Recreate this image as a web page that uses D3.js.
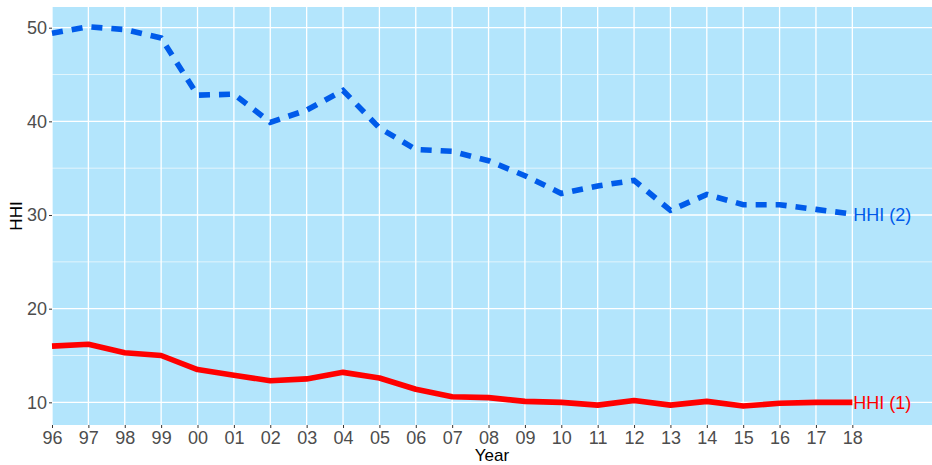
<!DOCTYPE html>
<html>
<head>
<meta charset="utf-8">
<script src="https://cdn.jsdelivr.net/npm/d3@7"></script>
<style>
  body { margin: 0; background: #fff; }
  text { font-family: "Liberation Sans", Arial, sans-serif; }
</style>
</head>
<body>
<svg id="chart" width="932" height="465"></svg>
<script>
// year labels on the x axis
var years = ["96","97","98","99","00","01","02","03","04","05","06","07",
             "08","09","10","11","12","13","14","15","16","17","18"];
// HHI (1), solid red
var hhi1 = [16.0,16.2,15.3,15.0,13.5,12.9,12.3,12.5,13.2,12.6,11.4,10.6,
            10.5,10.1,10.0,9.7,10.2,9.7,10.1,9.6,9.9,10.0,10.0];
// HHI (2), dashed blue
var hhi2 = [49.4,50.1,49.8,48.9,42.8,42.9,39.9,41.2,43.3,39.3,37.0,36.8,
            35.8,34.2,32.3,33.1,33.7,30.5,32.2,31.1,31.1,30.6,30.1];
var yMajor = [10,20,30,40,50];
var yMinor = [15,25,35,45];

var svg = d3.select("#chart"),
  width = +svg.attr("width"),
  height = +svg.attr("height");

// panel edges (window.top is taken, so p-prefixed names)
var pLeft = 52, pRight = 932, pTop = 7, pBottom = 425;

var x = d3.scaleLinear()
  .domain([0, 24.19])
  .range([pLeft, pRight]);
var y = d3.scaleLinear()
  .domain([7.58, 52.21])
  .range([pBottom, pTop]);

// panel
svg.append("rect")
  .attr("x", pLeft).attr("y", pTop)
  .attr("width", pRight - pLeft).attr("height", pBottom - pTop)
  .attr("fill", "#B3E5FC");

// grid
var grid = svg.append("g");
grid.selectAll(".minor").data(yMinor).enter().append("line")
  .attr("x1", pLeft).attr("x2", pRight)
  .attr("y1", function(d){ return y(d) }).attr("y2", function(d){ return y(d) })
  .attr("stroke", "#fff").attr("stroke-width", 0.7).attr("opacity", 0.9);
grid.selectAll(".major").data(yMajor).enter().append("line")
  .attr("x1", pLeft).attr("x2", pRight)
  .attr("y1", function(d){ return y(d) }).attr("y2", function(d){ return y(d) })
  .attr("stroke", "#fff").attr("stroke-width", 1.3);
grid.selectAll(".vert").data(years).enter().append("line")
  .attr("x1", function(d, i){ return x(i) }).attr("x2", function(d, i){ return x(i) })
  .attr("y1", pTop).attr("y2", pBottom)
  .attr("stroke", "#fff").attr("stroke-width", 1.3);

// axes
var xAxis = d3.axisBottom(x)
  .tickValues(d3.range(years.length))
  .tickFormat(function(i){ return years[i] })
  .tickSize(3).tickPadding(3);
var gx = svg.append("g")
  .attr("transform", "translate(0," + pBottom + ")")
  .call(xAxis);

var yAxis = d3.axisLeft(y)
  .tickValues(yMajor)
  .tickSize(3).tickPadding(2);
var gy = svg.append("g")
  .attr("transform", "translate(" + pLeft + ",0)")
  .call(yAxis);

[gx, gy].forEach(function(g){
  g.select(".domain").remove();
  g.selectAll(".tick line").attr("stroke", "#333").attr("stroke-width", 1);
  g.selectAll(".tick text")
    .attr("fill", "#4D4D4D")
    .style("font-size", "18px")
    .style("font-family", "'Liberation Sans', Arial, sans-serif");
});

// lines
var line = d3.line()
  .x(function(d, i){ return x(i) })
  .y(function(d){ return y(d) });

svg.append("path")
  .datum(hhi1)
  .attr("d", line)
  .attr("fill", "none")
  .attr("stroke", "#FF0000")
  .attr("stroke-width", 5.6)
  .attr("stroke-linejoin", "round");

svg.append("path")
  .datum(hhi2)
  .attr("d", line)
  .attr("fill", "none")
  .attr("stroke", "#005BEA")
  .attr("stroke-width", 5.6)
  .attr("stroke-dasharray", "11,9");

// end labels
var last = years.length - 1;
svg.append("text")
  .attr("x", x(last) + 1).attr("y", y(hhi1[last]) + 1)
  .attr("dominant-baseline", "central")
  .attr("fill", "#FF0000")
  .style("font-size", "18px")
  .text("HHI (1)");
svg.append("text")
  .attr("x", x(last) + 1).attr("y", y(hhi2[last]) + 1)
  .attr("dominant-baseline", "central")
  .attr("fill", "#005BEA")
  .style("font-size", "18px")
  .text("HHI (2)");

// axis titles
svg.append("text")
  .attr("x", (pLeft + pRight) / 2).attr("y", 461)
  .attr("text-anchor", "middle")
  .attr("fill", "#000")
  .style("font-size", "17px")
  .text("Year");
svg.append("text")
  .attr("transform", "translate(22," + ((pTop + pBottom) / 2) + ") rotate(-90)")
  .attr("text-anchor", "middle")
  .attr("fill", "#000")
  .style("font-size", "17px")
  .text("HHI");
</script>
</body>
</html>
